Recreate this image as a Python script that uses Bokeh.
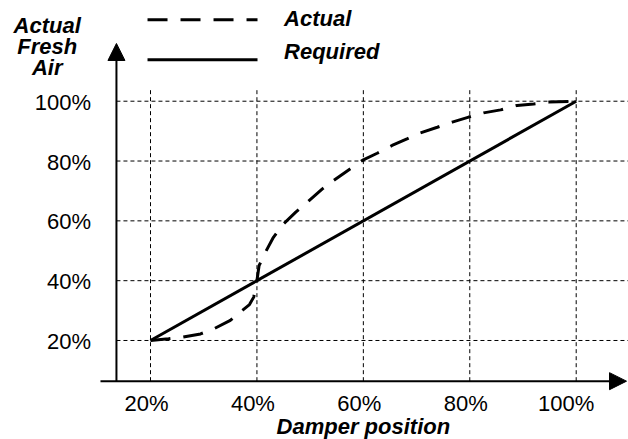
from bokeh.plotting import figure
from bokeh.models import Range1d, Arrow, NormalHead
from bokeh.core.properties import value
from bokeh.embed import file_html
from bokeh.resources import INLINE

# ---- data ----
damper_ticks = [20, 40, 60, 80, 100]
damper_labels = ["20%", "40%", "60%", "80%", "100%"]
air_ticks = [20, 40, 60, 80, 100]
air_labels = ["20%", "40%", "60%", "80%", "100%"]

actual_damper = [20, 23.4, 26, 29.4, 31.9, 35, 37.2, 38.6, 39.4, 40.0, 40.4, 41.6, 43.1,
                 45.0, 47.3, 49.8, 52.3, 54.4, 57.3, 59.8, 62.6, 65.4, 68.2, 70.7, 73.9,
                 76.7, 79.8, 82.6, 85.8, 88.9, 92.0, 94.9, 100]
actual_air = [20, 20.6, 21.1, 22.2, 23.9, 26.7, 30.0, 32.0, 34.5, 40.0, 45.0, 49.5, 54.5,
              59.0, 62.9, 66.8, 70.7, 73.5, 77.1, 80.2, 82.6, 85.2, 87.4, 89.4, 91.3,
              93.0, 94.7, 96.1, 97.1, 98.6, 99.1, 99.7, 100]
required_damper = [20, 100]
required_air = [20, 100]

series_names = ["Actual", "Required"]
x_title = "Damper position"
y_title_lines = ["Actual", "Fresh", "Air"]

# ---- layout constants ----
FONT = value("Liberation Sans")
X_MIN, X_MAX = -8.19, 109.83
Y_MIN, Y_MAX = -13.1, 133.67
YAXIS_X = 13.6      # where the vertical axis sits
XAXIS_Y = 6.4       # where the horizontal axis sits

p = figure(width=628, height=439,
           x_range=Range1d(X_MIN, X_MAX), y_range=Range1d(Y_MIN, Y_MAX),
           output_backend="svg", toolbar_location=None,
           x_axis_location=None, y_axis_location=None,
           min_border=0, outline_line_color=None)
p.grid.visible = False
p.background_fill_color = "white"
p.border_fill_color = "white"

# grid
n = len(damper_ticks)
p.segment(x0=damper_ticks, y0=[XAXIS_Y] * n, x1=damper_ticks, y1=[104.6] * n,
          line_color="black", line_width=1, line_dash="4 3")
m = len(air_ticks)
p.segment(x0=[YAXIS_X] * m, y0=air_ticks, x1=[109.8] * m, y1=air_ticks,
          line_color="black", line_width=1, line_dash="4 3")

# series
p.line(actual_damper, actual_air, line_color="black", line_width=3, line_dash="20 13")
p.line(required_damper, required_air, line_color="black", line_width=3)

# axes with arrows
p.add_layout(Arrow(end=NormalHead(size=17, fill_color="black", line_color="black"),
                   x_start=10.6, y_start=XAXIS_Y, x_end=109.46, y_end=XAXIS_Y,
                   line_color="black", line_width=2))
p.add_layout(Arrow(end=NormalHead(size=17, fill_color="black", line_color="black"),
                   x_start=YAXIS_X, y_start=XAXIS_Y, x_end=YAXIS_X, y_end=119.3,
                   line_color="black", line_width=2))

# tick labels
p.text(x=damper_ticks, y=[-0.9] * n, text=damper_labels, text_align="right",
       x_offset=18, text_baseline="middle", text_font=FONT,
       text_font_size="22px", text_color="black")
p.text(x=[YAXIS_X] * m, y=air_ticks, text=air_labels, text_align="right",
       x_offset=-25.5, y_offset=1, text_baseline="middle", text_font=FONT,
       text_font_size="22px", text_color="black")

# axis titles
p.text(x=[60], y=[-8.7], text=[x_title], text_align="center",
       text_baseline="middle", text_font=FONT, text_font_style="bold italic",
       text_font_size="22px", text_color="black")
p.text(x=[0.59] * 3, y=[125.2, 118.2, 111.4], text=y_title_lines,
       text_align="center", text_baseline="middle", text_font=FONT,
       text_font_style="bold italic", text_font_size="22px", text_color="black")

# legend
p.line([19.44, 40.11], [127.2, 127.2], line_color="black", line_width=3, line_dash="20 13")
p.line([19.44, 40.11], [113.84, 113.84], line_color="black", line_width=3)
p.text(x=[45.1, 45.1], y=[127.8, 116.7], text=series_names, text_align="left",
       text_baseline="middle", text_font=FONT, text_font_style="bold italic",
       text_font_size="22px", text_color="black")

open("out.html", "w").write(file_html(p, INLINE))
